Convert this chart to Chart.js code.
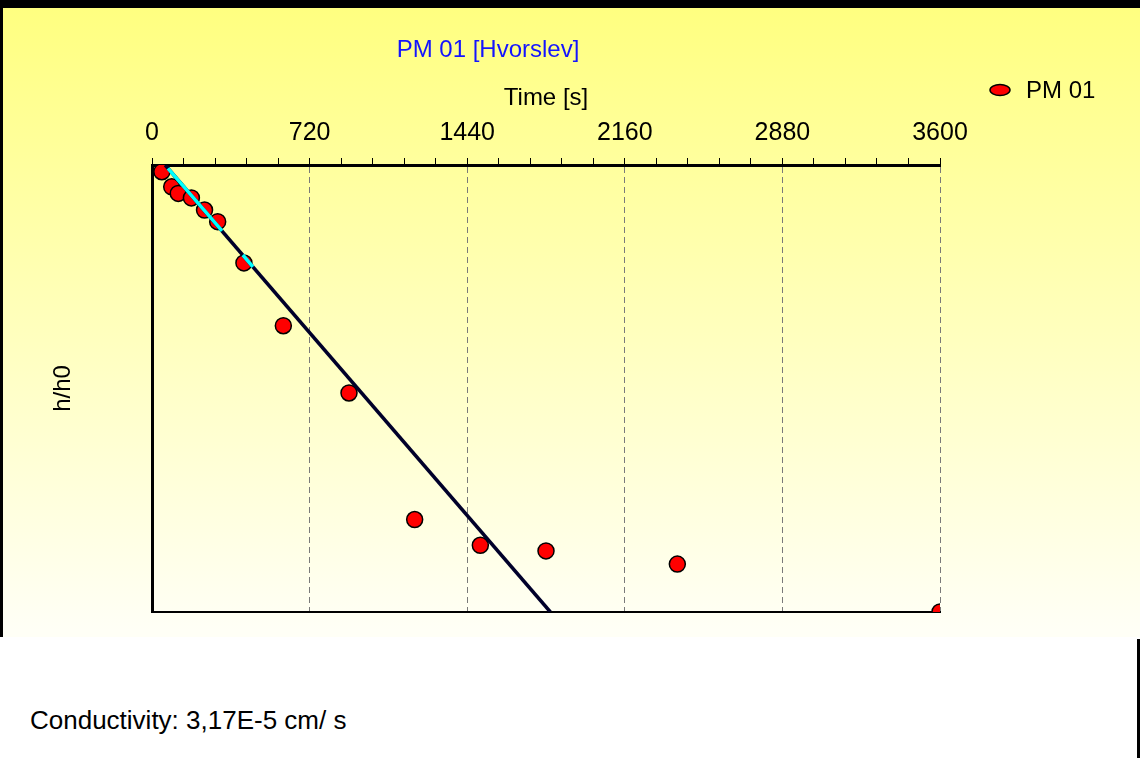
<!DOCTYPE html>
<html>
<head>
<meta charset="utf-8">
<script src="https://cdn.jsdelivr.net/npm/chart.js@4"></script>
<style>
body{margin:0;width:1140px;height:758px;background:#fff;position:relative;overflow:hidden;font-family:"Liberation Sans",Arial,sans-serif}
#panel{position:absolute;left:0;top:0;width:1140px;height:637px;background:linear-gradient(#ffff80 8px,#fffff6 630px)}
#grafico{position:absolute;left:0;top:0}
.barra{position:absolute;background:#000}
#info{position:absolute;left:30px;top:704px;font-size:26px;line-height:32px;color:#000}
</style>
</head>
<body>
<div id="panel"><canvas id="grafico" width="1140" height="637"></canvas></div>
<div class="barra" style="left:0;top:0;width:1140px;height:8px"></div>
<div class="barra" style="left:0;top:0;width:3px;height:637px"></div>
<div class="barra" style="left:1137px;top:639px;width:3px;height:119px"></div>
<div id="info">Conductivity: 3,17E-5 cm/ s</div>
<script>
const titulo='PM 01 [Hvorslev]';
const serie='PM 01';
// mediciones: tiempo [s] y h/h0
const tiempos=[45,90,120,180,240,300,420,600,900,1200,1500,1800,2400,3600];
const hh0=[0.966,0.894,0.864,0.844,0.793,0.747,0.604,0.437,0.309,0.161,0.141,0.137,0.128,0.1];
// recta de ajuste
const ajusteT=[60,1820];
const ajusteH=[1,0.1];
// tramos usados en el ajuste (null corta el tramo)
const tramoT=[73,320,null,415,461];
const tramoH=[0.983,0.712,null,0.629,0.592];
const ejeX={min:0,max:3600,paso:144,mayor:720};

const pts=(xs,ys)=>xs.map((x,i)=>({x:x,y:ys[i]}));
Chart.defaults.font.family='"Liberation Sans", Arial, sans-serif';
Chart.defaults.color='#000';

const rotulos={id:'rotulos',afterDraw(ch){
 const c=ch.ctx;c.save();
 c.font='24px "Liberation Sans", Arial, sans-serif';c.textBaseline='middle';
 c.fillStyle='#1414ff';c.textAlign='center';c.fillText(titulo,488,50);
 c.fillStyle='#f00';c.strokeStyle='#000';c.lineWidth=1.5;
 c.beginPath();c.ellipse(1000,90,10,5.5,0,0,Math.PI*2);c.fill();c.stroke();
 c.fillStyle='#000';c.textAlign='left';c.fillText(serie,1026,91);
 c.restore();
}};

// el primer dataset queda encima
new Chart(grafico,{type:'scatter',
 data:{datasets:[
  {label:'tramo',data:pts(tramoT,tramoH),showLine:true,spanGaps:false,borderColor:'#00ffff',borderWidth:3.5,pointRadius:0,clip:0},
  {label:'ajuste',data:pts(ajusteT,ajusteH),showLine:true,borderColor:'#00002a',borderWidth:3.5,pointRadius:0,clip:0},
  {label:serie,data:pts(tiempos,hh0),pointRadius:8,pointBackgroundColor:'#ff0000',pointBorderColor:'#000',pointBorderWidth:1.5,clip:0}
 ]},
 plugins:[rotulos],
 options:{responsive:false,animation:false,
  layout:{padding:{left:0,top:0,right:200,bottom:17}},
  plugins:{legend:{display:false},tooltip:{enabled:false}},
  scales:{
   x:{type:'linear',position:'top',min:ejeX.min,max:ejeX.max,
    afterFit:s=>{s.height=165},
    title:{display:true,text:'Time [s]',font:{size:24},padding:{top:84,bottom:0}},
    ticks:{stepSize:ejeX.paso,autoSkip:false,maxRotation:0,padding:10,font:{size:25},
     callback:v=>v%ejeX.mayor===0?v:''},
    grid:{color:c=>(c.tick&&c.tick.value>0&&c.tick.value%ejeX.mayor===0)?'#7a7a7a':'rgba(0,0,0,0)',
     tickColor:'#000',tickLength:7,lineWidth:1},
    border:{display:true,color:'#000',width:3,dash:[6,4]}},
   x2:{type:'linear',position:'bottom',min:ejeX.min,max:ejeX.max,
    ticks:{display:false},grid:{display:false},
    border:{display:true,color:'#000',width:2}},
   y:{type:'logarithmic',min:0.1,max:1,
    afterFit:s=>{s.width=152},
    title:{display:true,text:'h/h0',font:{size:24},padding:{top:49,bottom:0}},
    ticks:{display:false},grid:{display:false},
    border:{display:true,color:'#000',width:3}}
  }}
});
</script>
</body>
</html>
